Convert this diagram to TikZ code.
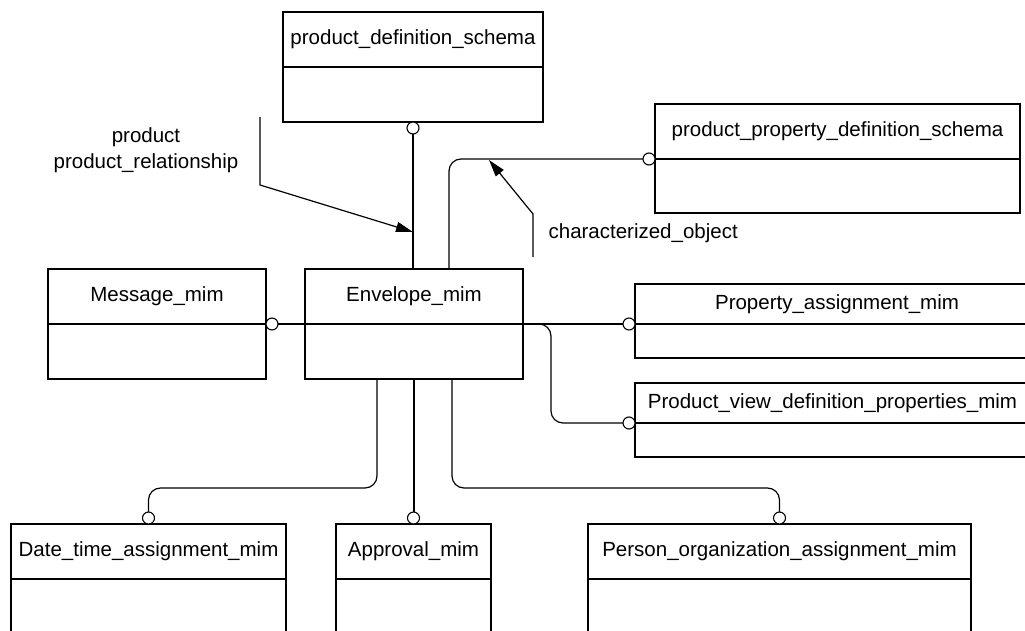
\documentclass[tikz,border=0pt]{standalone}
\usepackage{fontspec}
\setmainfont{Liberation Sans}
\usetikzlibrary{arrows.meta}
\begin{document}
\begin{tikzpicture}[x=1pt, y=-1pt, line width=1.2pt,
  box/.style={draw, rectangle, anchor=north west, inner sep=0pt, outer sep=0pt},
  title/.style={inner sep=0pt, font=\fontsize{20.5}{26}\selectfont},
  port/.style={draw, circle, fill=white, inner sep=0pt, outer sep=0pt, minimum size=12pt, line width=1.1pt},
  link/.style={rounded corners=12pt},
  pointer/.style={-{Triangle[length=17pt,width=10pt]}}]
  \useasboundingbox (0,0) rectangle (1025,631);

  % Cajas
  \foreach \n/\x/\y/\w/\h/\d/\t in {
      pds/283/12/260/110/55/product\_definition\_schema,
      ppds/655/104/365/109/55/product\_property\_definition\_schema,
      msg/48/269/218/110/55/Message\_mim,
      env/305/269/218/110/55/Envelope\_mim,
      pam/635/284/404/74/40/Property\_assignment\_mim,
      pvdp/635/383/395/74/40/Product\_view\_definition\_properties\_mim,
      dta/11/524/275/130/55/Date\_time\_assignment\_mim,
      apr/336/524/155/130/55/Approval\_mim,
      poa/588/524/383/130/55/Person\_organization\_assignment\_mim}
  {
    \node[box, minimum width=\w pt, minimum height=\h pt] (\n) at (\x,\y) {};
    \draw ([yshift=-\d pt]\n.north west) -- ([yshift=-\d pt]\n.north east);
    \node[title] (\n title) at ([yshift=-0.5*\d pt]\n.north) {\t};
  }

  % Puertos
  \node[port, anchor=north] (pdsport) at (pds.south) {};
  \node[port, anchor=east] (ppdsport) at ([yshift=-55pt]ppds.north west) {};
  \node[port, anchor=west] (msgport) at ([yshift=-55pt]msg.north east) {};
  \node[port, anchor=east] (pamport) at ([yshift=-40pt]pam.north west) {};
  \node[port, anchor=east] (pvdpport) at ([yshift=-40pt]pvdp.north west) {};
  \node[port, anchor=south] (dtaport) at (dta.north) {};
  \node[port, anchor=south] (aprport) at (apr.north) {};
  \node[port, anchor=south] (poaport) at (poa.north) {};

  % Conexiones
  \draw (pdsport.south) -- (pdsport.south |- env.north);
  \draw[link] ([xshift=35pt]env.north) |- (ppdsport.west);
  \draw (msgport.east) -- (env.west);
  \draw (env.east) -- (pamport.west);
  \draw[link] (env.east) -| ([xshift=-72pt]pvdpport.west) -- (pvdpport.west);
  \draw[link] ([xshift=-37pt]env.south) -- ++(0,109) -| (dtaport.north);
  \draw (env.south) -- (env.south |- aprport.north);
  \draw[link] ([xshift=38pt]env.south) -- ++(0,109) -| (poaport.north);

  % Etiquetas
  \coordinate (prodfrom) at (260,117);
  \coordinate (prodto) at (413,232);
  \draw[pointer] (prodfrom) -- (260,185) -- (prodto);
  \node[title, align=center] (prodlbl) at (146,150) {product\\product\_relationship};

  \coordinate (charfrom) at (533,257);
  \coordinate (charto) at (489,160);
  \draw[pointer] (charfrom) -- (533,214) -- (charto);
  \node[title, anchor=west] (charlbl) at (548,233) {characterized\_object};

\end{tikzpicture}
\end{document}
